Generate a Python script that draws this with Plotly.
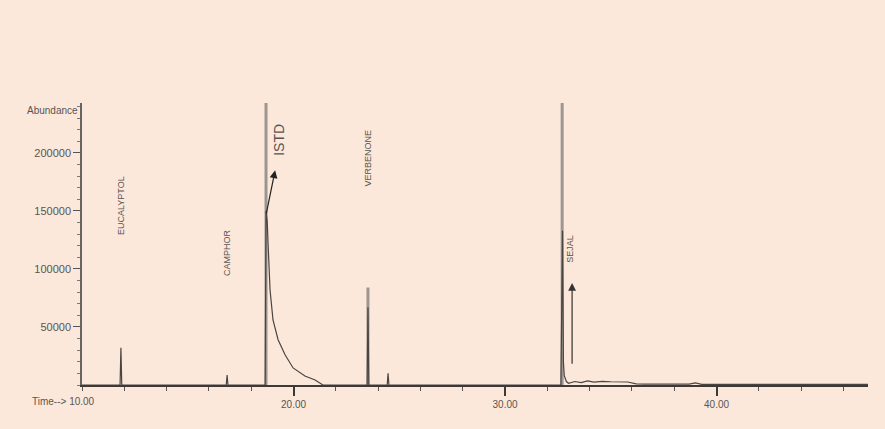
import plotly.graph_objects as go

# ---- data ----
time_min = [10.0, 11.80, 11.84, 11.88, 16.82, 16.86, 16.90, 18.66, 18.70, 18.76, 18.79,
            18.89, 19.03, 19.27, 19.60, 19.98, 20.54, 21.02, 21.39, 23.48, 23.52, 23.56,
            24.43, 24.47, 24.51, 32.64, 32.72, 32.76, 32.80, 32.90, 33.00, 33.30, 33.60,
            33.90, 34.20, 34.60, 35.00, 35.40, 35.80, 36.20, 36.60, 38.70, 39.00, 39.30, 47.16]
abundance = [0, 0, 32000, 0, 0, 8500, 0, 0, 150000, 140000, 125000,
             82000, 56000, 39000, 26000, 14700, 7800, 4300, 0, 0, 67000, 0,
             0, 10000, 0, 0, 133000, 20000, 8000, 3000, 1500, 3000, 2000,
             3500, 2500, 3200, 2800, 3000, 2600, 1000, 800, 700, 1800, 600, 500]

# tall peaks drawn as wide grey strokes
peak_times = [18.70, 23.52, 32.70]
peak_heights = [300000, 84000, 300000]

# compound labels
label_names = ["EUCALYPTOL", "CAMPHOR", "VERBENONE", "SEJAL"]
label_times = [11.84, 16.82, 23.52, 33.10]
label_abund = [155000, 114000, 196000, 117000]

y_ticks = [50000, 100000, 150000, 200000]
y_ticktext = ["50000", "100000", "150000", "200000"]
x_ticks = [20, 30, 40]
x_ticktext = ["20.00", "30.00", "40.00"]

BG = "#FCE8DB"
INK = "#4a4542"
TXT = "#5a5450"
FONT = "Liberation Sans, Arial"

fig = go.Figure()

gx, gy = [], []
for t, h in zip(peak_times, peak_heights):
    gx += [t, t, None]
    gy += [0, h, None]
fig.add_trace(go.Scatter(x=gx, y=gy, mode="lines",
                         line=dict(color="#9d9690", width=3), hoverinfo="skip"))

fig.add_trace(go.Scatter(x=time_min, y=abundance, mode="lines",
                         line=dict(color=INK, width=1.2), hoverinfo="skip"))

for name, t, a in zip(label_names, label_times, label_abund):
    fig.add_annotation(x=t, y=a, text=name, showarrow=False, textangle=-90,
                       font=dict(family=FONT, size=9, color=TXT))

fig.add_annotation(x=19.30, y=211000, text="ISTD", showarrow=False, textangle=-90,
                   font=dict(family=FONT, size=14, color=TXT))

# arrows
fig.add_annotation(x=19.13, y=185000, ax=18.70, ay=146500, axref="x", ayref="y",
                   xref="x", yref="y", text="", showarrow=True, arrowhead=2,
                   arrowsize=1.3, arrowwidth=1.2, arrowcolor="#222")
fig.add_annotation(x=33.17, y=88000, ax=33.17, ay=17000, axref="x", ayref="y",
                   xref="x", yref="y", text="", showarrow=True, arrowhead=2,
                   arrowsize=1.3, arrowwidth=1.2, arrowcolor="#333")

fig.add_annotation(xref="paper", yref="paper", x=-0.002, y=0.975, xanchor="right",
                   yanchor="middle", text="Abundance", showarrow=False,
                   font=dict(family=FONT, size=10, color=TXT))
fig.add_annotation(xref="paper", yref="paper", x=0.019, y=0, xanchor="right",
                   yanchor="top", yshift=-9, text="Time--> 10.00", showarrow=False,
                   font=dict(family=FONT, size=10, color=TXT))

fig.update_layout(
    width=885, height=429,
    margin=dict(l=82, r=17, t=103, b=44),
    paper_bgcolor=BG, plot_bgcolor=BG,
    showlegend=False,
    font=dict(family=FONT, size=10, color=TXT),
)
fig.update_xaxes(range=[10, 47.16], showgrid=False, zeroline=False,
                 showline=True, linecolor="#3d3936", linewidth=2,
                 tickmode="array", tickvals=x_ticks, ticktext=x_ticktext,
                 ticks="outside", ticklen=9, tickwidth=1.5, tickcolor="#3d3936",
                 minor=dict(tickmode="linear", tick0=10, dtick=2, ticks="outside",
                            ticklen=4, tickcolor="#555", tickwidth=1),
                 tickfont=dict(size=10, color=TXT))
fig.update_yaxes(range=[0, 243000], showgrid=False, zeroline=False,
                 showline=True, linecolor="#6a6460", linewidth=1.5,
                 tickmode="array", tickvals=y_ticks, ticktext=y_ticktext,
                 ticks="outside", ticklen=7, tickwidth=1, tickcolor="#555",
                 minor=dict(tickmode="linear", tick0=0, dtick=10000, ticks="outside",
                            ticklen=3, tickcolor="#777", tickwidth=1),
                 tickfont=dict(size=11, color=TXT))

fig.write_html("out.html")
